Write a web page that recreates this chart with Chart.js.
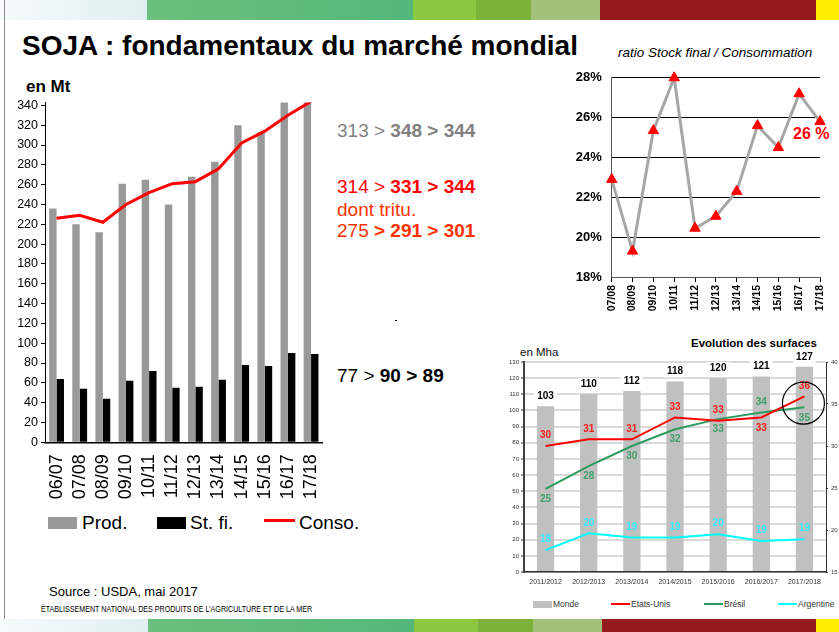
<!DOCTYPE html>
<html>
<head>
<meta charset="utf-8">
<script src="https://cdn.jsdelivr.net/npm/chart.js@4.4.1/dist/chart.umd.min.js"></script>
<style>
  body { margin: 0; background: #fff; font-family: "Liberation Sans", Arial, sans-serif; }
  #page { position: relative; width: 839px; height: 632px; overflow: hidden; background: #fff; }
  .t { position: absolute; white-space: nowrap; line-height: 1; }
  .b { position: absolute; }
  canvas { position: absolute; }
</style>
</head>
<body>
<div id="page">
  <!-- bandeau haut -->
  <div class="b" style="left:0;top:0;width:147px;height:20px;background:linear-gradient(90deg,#f6fafb,#e1eff1)"></div>
  <div class="b" style="left:147px;top:0;width:266px;height:20px;background:linear-gradient(90deg,#6bbf7c,#54b87a)"></div>
  <div class="b" style="left:413px;top:0;width:63px;height:20px;background:#8dc63f"></div>
  <div class="b" style="left:476px;top:0;width:55px;height:20px;background:#7cb23a"></div>
  <div class="b" style="left:531px;top:0;width:69px;height:20px;background:#a2c27c"></div>
  <div class="b" style="left:600px;top:0;width:216px;height:20px;background:#951b1f"></div>
  <div class="b" style="left:816px;top:0;width:23px;height:20px;background:#ffed00"></div>
  <!-- bandeau bas -->
  <div class="b" style="left:0;top:619px;width:148px;height:13px;background:linear-gradient(90deg,#f6fafb,#e1eff1)"></div>
  <div class="b" style="left:148px;top:619px;width:266px;height:13px;background:linear-gradient(90deg,#6bbf7c,#54b87a)"></div>
  <div class="b" style="left:414px;top:619px;width:64px;height:13px;background:#8dc63f"></div>
  <div class="b" style="left:478px;top:619px;width:55px;height:13px;background:#7cb23a"></div>
  <div class="b" style="left:533px;top:619px;width:69px;height:13px;background:#a2c27c"></div>
  <div class="b" style="left:602px;top:619px;width:214px;height:13px;background:#951b1f"></div>
  <div class="b" style="left:816px;top:619px;width:23px;height:13px;background:#ffed00"></div>
  <div class="b" style="left:4px;top:0;width:1px;height:619px;background:#8a8a8a"></div>

  <div class="t" style="left:22px;top:32px;font-size:28px;font-weight:bold;">SOJA : fondamentaux du marché mondial</div>
  <div class="t" style="left:26px;top:78px;font-size:17px;font-weight:bold;">en Mt</div>

  <div class="t" style="left:337px;top:121px;font-size:19px;color:#808080;">313 &gt; <b>348 &gt; 344</b></div>
  <div class="t" style="left:337px;top:177px;font-size:19px;color:#ff0000;">314 &gt; <b>331 &gt; 344</b></div>
  <div class="t" style="left:337px;top:200px;font-size:19px;color:#ff3300;">dont tritu.</div>
  <div class="t" style="left:337px;top:221px;font-size:19px;color:#ff3300;">275 <b>&gt; 291 &gt; 301</b></div>
  <div class="t" style="left:337px;top:366px;font-size:19px;color:#000;">77 &gt; <b>90 &gt; 89</b></div>
  <div class="b" style="left:395px;top:320px;width:2px;height:1px;background:#000"></div>

  <div class="b" style="left:48px;top:517px;width:29px;height:12px;background:#999999"></div>
  <div class="t" style="left:82px;top:513px;font-size:19px;">Prod.</div>
  <div class="b" style="left:157px;top:517px;width:29px;height:12px;background:#000"></div>
  <div class="t" style="left:190px;top:513px;font-size:19px;">St. fi.</div>
  <div class="b" style="left:264px;top:519px;width:31px;height:3px;background:#ff0000"></div>
  <div class="t" style="left:299px;top:513px;font-size:19px;">Conso.</div>

  <div class="t" style="left:49px;top:585px;font-size:13px;">Source : USDA, mai 2017</div>
  <div class="t" style="left:41px;top:604px;font-size:9.5px;transform:scaleX(0.75);transform-origin:0 0;">ÉTABLISSEMENT NATIONAL DES PRODUITS DE L’AGRICULTURE ET DE LA MER</div>

  <div class="t" style="left:618px;top:46px;font-size:13.5px;font-style:italic;">ratio Stock final / Consommation</div>
  <div class="t" style="left:793px;top:126px;font-size:16px;font-weight:bold;color:#ff0000;">26 %</div>

  <div class="t" style="left:520px;top:347px;font-size:11.5px;color:#111;">en Mha</div>
  <div class="t" style="left:691px;top:338px;font-size:11.5px;font-weight:bold;">Evolution des surfaces</div>

  <div class="b" style="left:533px;top:601px;width:19px;height:7px;background:#c0c0c0"></div>
  <div class="t" style="left:553px;top:600px;font-size:8.5px;color:#333;">Monde</div>
  <div class="b" style="left:611px;top:603px;width:19px;height:2px;background:#ff0000"></div>
  <div class="t" style="left:631px;top:600px;font-size:8.5px;color:#333;">Etats-Unis</div>
  <div class="b" style="left:704px;top:603px;width:19px;height:2px;background:#2e9b5e"></div>
  <div class="t" style="left:724px;top:600px;font-size:8.5px;color:#333;">Brésil</div>
  <div class="b" style="left:778px;top:603px;width:19px;height:2px;background:#00ffff"></div>
  <div class="t" style="left:798px;top:600px;font-size:8.5px;color:#333;">Argentine</div>

  <canvas id="main" width="345" height="430" style="left:0;top:90px"></canvas>
  <canvas id="ratio" width="279" height="265" style="left:560px;top:60px"></canvas>
  <canvas id="surf" width="344" height="254" style="left:495px;top:340px"></canvas>
</div>
<script>
// bilan mondial soja (Mt)
const seasons = ["06/07", "07/08", "08/09", "09/10", "10/11", "11/12", "12/13", "13/14", "14/15", "15/16", "16/17", "17/18"];
const production = [236, 220, 212, 261, 265, 240, 268, 283, 320, 313, 348, 344];
const endStocks = [64, 54, 44, 62, 72, 55, 56, 63, 78, 77, 90, 89];
const consumption = [226, 229, 222, 240, 252, 261, 263, 276, 302, 314, 330, 344];
const mtTicks = [0, 20, 40, 60, 80, 100, 120, 140, 160, 180, 200, 220, 240, 260, 280, 300, 320, 340];

// ratio stock final / consommation (%)
const ratioSeasons = ["07/08", "08/09", "09/10", "10/11", "11/12", "12/13", "13/14", "14/15", "15/16", "16/17", "17/18"];
const stockRatio = [22.9, 19.3, 25.35, 28.0, 20.45, 21.05, 22.3, 25.6, 24.5, 27.2, 25.8];

// surfaces (Mha)
const campaigns = ["2011/2012", "2012/2013", "2013/2014", "2014/2015", "2015/2016", "2016/2017", "2017/2018"];
const worldArea = [102.6, 110, 112, 118, 120, 121, 127];
const usArea = [30.0, 30.8, 30.8, 33.4, 33.0, 33.4, 35.9];
const brazilArea = [24.9, 27.6, 30.0, 32.0, 33.2, 34.0, 34.6];
const argentinaArea = [17.6, 19.6, 19.1, 19.1, 19.5, 18.7, 18.9];

// placement des etiquettes : -1 au-dessus, 1 en dessous
const usSide = [-1, -1, -1, -1, -1, 1, -1];
const brazilSide = [1, 1, 1, 1, 1, -1, 1];
const argentinaSide = [-1, -1, -1, -1, -1, -1, -1];

Chart.defaults.font.family = "'Liberation Sans', Arial, sans-serif";
Chart.defaults.color = "#000";

const noPlugins = { legend: { display: false }, tooltip: { enabled: false } };

new Chart(document.getElementById("main"), {
  type: "bar",
  data: {
    labels: seasons,
    datasets: [
      { type: "line", label: "Conso.", data: consumption, borderColor: "#ff0000", borderWidth: 3,
        pointRadius: 0, tension: 0, order: 0 },
      { label: "Prod.", data: production, backgroundColor: "#999999", order: 1 },
      { label: "St. fi.", data: endStocks, backgroundColor: "#000000", order: 1 }
    ]
  },
  options: {
    responsive: false,
    animation: false,
    plugins: noPlugins,
    datasets: { bar: { categoryPercentage: 0.64, barPercentage: 1 } },
    layout: { padding: { top: 12.4, right: 8, left: 0, bottom: 0 } },
    scales: {
      x: {
        grid: { drawOnChartArea: false, drawTicks: false },
        border: { color: "#000", width: 1.5 },
        ticks: { autoSkip: false, minRotation: 90, maxRotation: 90, padding: 12, font: { size: 18 } },
        afterFit(s) { s.height = 77.7; }
      },
      y: {
        min: 0, max: 343,
        ticks: { padding: 3, font: { size: 12.5 } },
        afterBuildTicks(s) { s.ticks = mtTicks.map(v => ({ value: v })); },
        grid: { drawOnChartArea: false, tickLength: 4, color: "#000" },
        border: { color: "#000" },
        afterFit(s) { s.width = 45; }
      }
    }
  }
});

new Chart(document.getElementById("ratio"), {
  type: "line",
  data: {
    labels: ratioSeasons,
    datasets: [{
      data: stockRatio, borderColor: "#a6a6a6", borderWidth: 3, tension: 0, clip: false,
      pointStyle: "triangle", pointRadius: 6, pointBackgroundColor: "#ff0000",
      pointBorderColor: "#ff0000", pointBorderWidth: 1
    }]
  },
  options: {
    responsive: false,
    animation: false,
    plugins: noPlugins,
    layout: { padding: { top: 16, right: 19, left: 0, bottom: 0 } },
    scales: {
      x: {
        offset: false,
        grid: { drawOnChartArea: false, tickLength: 5, color: "#000" },
        border: { color: "#555" },
        ticks: { autoSkip: false, minRotation: 90, maxRotation: 90, padding: 3, font: { size: 10.5, weight: "bold" } },
        afterFit(s) { s.height = 48; }
      },
      y: {
        min: 18, max: 28,
        ticks: { stepSize: 2, padding: 10, callback: v => v + "%", font: { size: 13, weight: "bold" } },
        grid: { color: "#000", drawTicks: false },
        border: { color: "#555" },
        afterFit(s) { s.width = 51.7; }
      }
    }
  }
});

const surfaceLabels = {
  id: "surfaceLabels",
  afterDatasetsDraw(chart) {
    const ctx = chart.ctx;
    ctx.save();
    ctx.font = "bold 10px 'Liberation Sans', Arial, sans-serif";
    ctx.textAlign = "center";
    ctx.textBaseline = "middle";
    chart.data.datasets.forEach((ds, i) => {
      const meta = chart.getDatasetMeta(i);
      meta.data.forEach((el, j) => {
        const txt = String(Math.round(ds.data[j]));
        if (ds.type !== "line") {
          const y = el.y - 10;
          const w = ctx.measureText(txt).width + 6;
          ctx.fillStyle = "#fff";
          ctx.fillRect(el.x - w / 2, y - 6, w, 12);
          ctx.fillStyle = "#000";
          ctx.fillText(txt, el.x, y);
        } else {
          ctx.fillStyle = ds.labelColor;
          ctx.fillText(txt, el.x, el.y + ds.labelSide[j] * 10.5);
        }
      });
    });
    // cercle autour de la derniere campagne
    const x = chart.scales.x.getPixelForValue(6);
    const y = chart.scales.y1.getPixelForValue(35.1);
    ctx.beginPath();
    ctx.arc(x - 1, y, 21, 0, Math.PI * 2);
    ctx.strokeStyle = "#000";
    ctx.lineWidth = 1.2;
    ctx.stroke();
    ctx.restore();
  }
};

new Chart(document.getElementById("surf"), {
  type: "bar",
  data: {
    labels: campaigns,
    datasets: [
      { label: "Monde", data: worldArea, backgroundColor: "#c0c0c0", yAxisID: "y", order: 2,
        categoryPercentage: 1, barPercentage: 0.4 },
      { type: "line", label: "Etats-Unis", data: usArea, borderColor: "#ff0000", borderWidth: 2,
        pointRadius: 0, tension: 0, yAxisID: "y1", order: 0, labelColor: "#ff1a1a", labelSide: usSide },
      { type: "line", label: "Brésil", data: brazilArea, borderColor: "#2e9b5e", borderWidth: 2,
        pointRadius: 0, tension: 0, yAxisID: "y1", order: 0, labelColor: "#3f9f6a", labelSide: brazilSide },
      { type: "line", label: "Argentine", data: argentinaArea, borderColor: "#00ffff", borderWidth: 2,
        pointRadius: 0, tension: 0, yAxisID: "y1", order: 0, labelColor: "#33eeff", labelSide: argentinaSide }
    ]
  },
  options: {
    responsive: false,
    animation: false,
    plugins: noPlugins,
    layout: { padding: { top: 22, right: 0, left: 0, bottom: 0 } },
    scales: {
      x: {
        grid: { drawOnChartArea: false, drawTicks: false },
        border: { color: "#333", width: 1.5 },
        ticks: { padding: 6, color: "#333", font: { size: 7 } },
        afterFit(s) { s.height = 22; }
      },
      y: {
        min: 0, max: 130,
        ticks: { stepSize: 10, padding: 2, color: "#333", font: { size: 6 } },
        grid: { color: "#dadada", lineWidth: 2, tickLength: 3, tickColor: "#333", tickWidth: 1 },
        border: { color: "#404040", width: 2 },
        afterFit(s) { s.width = 29; }
      },
      y1: {
        position: "right",
        min: 15, max: 40,
        ticks: { stepSize: 5, padding: 3, color: "#333", font: { size: 6 } },
        grid: { drawOnChartArea: false, tickLength: 2, color: "#333" },
        border: { color: "#333" },
        afterFit(s) { s.width = 13; }
      }
    }
  },
  plugins: [surfaceLabels]
});
</script>
</body>
</html>
